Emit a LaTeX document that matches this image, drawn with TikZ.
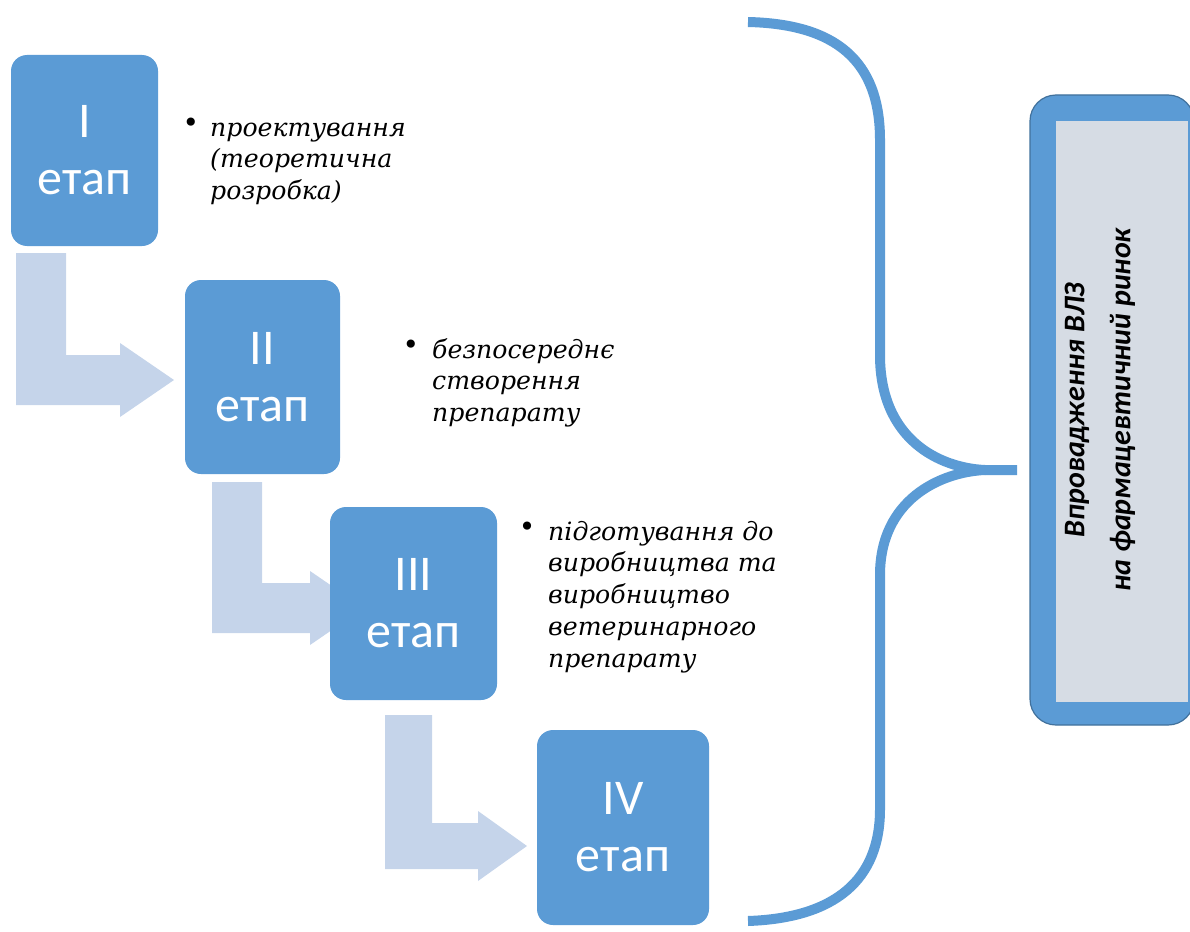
\documentclass[tikz,border=0pt]{standalone}
\usepackage{fontspec}
\setmainfont{Liberation Serif}
\newfontfamily\boxfont{Carlito}
\newfontfamily\serifit{DejaVu Serif}
\definecolor{stageblue}{HTML}{5B9BD5}
\definecolor{arrowblue}{HTML}{C5D4EA}
\definecolor{edgeblue}{HTML}{41719C}
\definecolor{innergrey}{HTML}{D6DCE4}
\newcommand{\desctext}[1]{\parbox[t]{300pt}{\raggedright #1}}
\begin{document}
\begin{tikzpicture}[x=1pt,y=-1pt,
  stagebox/.style={fill=stageblue,draw=none,rounded corners=16pt},
  stagetext/.style={text=white,font=\boxfont\fontsize{50}{57}\selectfont,align=center},
  bentarrow/.style={fill=arrowblue,draw=none},
  desc/.style={font=\serifit\itshape\fontsize{25.2}{31.8}\selectfont,anchor=base west,inner sep=0pt},
  bul/.style={font=\serifit\fontsize{28}{30}\selectfont,anchor=base,inner sep=0pt},
  brace/.style={draw=stageblue,line width=10pt,line join=round}]
\useasboundingbox (0,0) rectangle (1190,931);
\begin{scope}
\clip (0,0) rectangle (1190,931);
% bent arrows
\fill[bentarrow] (16,253) -- (66,253) -- (66,355) -- (120,355) -- (120,343) -- (174,380) -- (120,417) -- (120,405) -- (16,405) -- cycle;
\fill[bentarrow] (212,482) -- (262,482) -- (262,583) -- (310,583) -- (310,571) -- (364,608) -- (310,645) -- (310,633) -- (212,633) -- cycle;
\fill[bentarrow] (385,715) -- (432,715) -- (432,823) -- (478,823) -- (478,811) -- (527,846) -- (478,881) -- (478,869) -- (385,869) -- cycle;
% stage boxes
\fill[stagebox] (11,55) rectangle (158,246);
\fill[stagebox] (185,280) rectangle (340,474);
\fill[stagebox] (330,507) rectangle (497,700);
\fill[stagebox] (537,730) rectangle (709,925);
\node[stagetext] (s1) at (84.5,150) {I\\етап};
\node[stagetext] (s2) at (262.5,377) {II\\етап};
\node[stagetext] (s3) at (413.5,603) {III\\етап};
\node[stagetext] (s4) at (623,827) {IV\\етап};
% descriptions
\node[bul] (b1) at (191,132) {•};
\node[desc] (d1) at (210,136) {\desctext{проектування\\(теоретична\\розробка)}};
\node[bul] (b2) at (411,354) {•};
\node[desc] (d2) at (432,358) {\desctext{безпосереднє\\створення\\препарату}};
\node[bul] (b3) at (527,536) {•};
\node[desc] (d3) at (548,540) {\desctext{підготування до\\виробництва та\\виробництво\\ветеринарного\\препарату}};
% brace
\draw[brace] (748,22) .. controls (835,24) and (880,60) .. (880,140) -- (880,355)
  .. controls (880,440) and (940,468) .. (985,470) -- (1017,470);
\draw[brace] (985,470) .. controls (940,472) and (880,500) .. (880,575) -- (880,809)
  .. controls (880,880) and (835,918) .. (748,921);
% result box
\filldraw[fill=stageblue,draw=edgeblue,line width=1.2pt,rounded corners=26pt] (1030,95) rectangle (1194,725);
\fill[innergrey] (1056,121) rectangle (1188,702);
\node[rotate=90,align=center,font=\boxfont\bfseries\itshape\fontsize{30}{46}\selectfont] (res) at (1100,410) {Впровадження ВЛЗ\\на фармацевтичний ринок};
\end{scope}
\end{tikzpicture}
\end{document}
